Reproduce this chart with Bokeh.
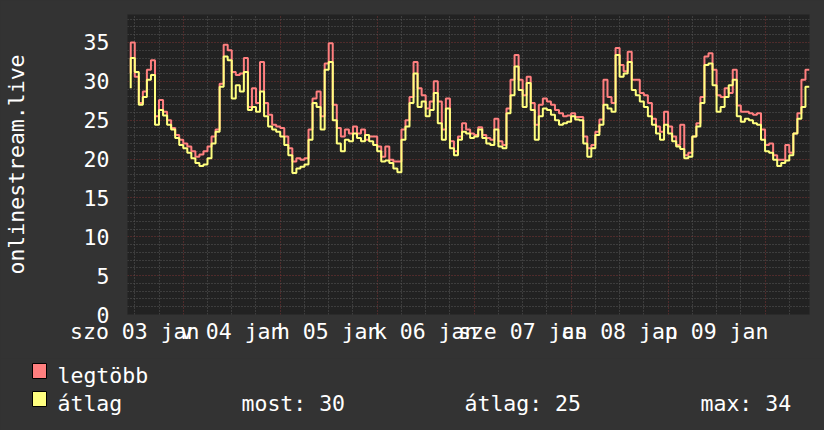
from bokeh.plotting import figure
from bokeh.models import FixedTicker, Range1d
from bokeh.embed import file_html
from bokeh.resources import INLINE
from bokeh.core.properties import value

# ---------------- data (hours since szo 03 jan 00:00) ----------------
hours = list(range(11, 180))

max_vals = [
    31.0, 35.0, 30.6, 27.2, 28.7, 31.5, 32.7, 25.5, 27.6, 26.1, 25.0, 24.0, 23.1,
    22.5, 22.0, 21.6, 21.0, 20.3, 20.6, 21.0, 21.6, 22.9, 23.8, 29.7, 34.7, 34.0,
    31.2, 30.8, 31.0, 33.0, 26.7, 29.1, 27.2, 32.5, 27.2, 25.7, 24.4,
    24.2, 24.0, 22.9, 21.4, 19.7, 20.1, 19.9, 20.1, 23.8, 27.8, 28.7, 25.5, 32.3,
    34.9, 27.0, 24.0, 22.9, 23.8, 23.3, 24.2, 23.3, 23.8, 22.5, 22.9,
    22.9, 21.6, 20.3, 21.6, 19.9, 19.7, 19.7, 23.8, 25.0, 28.0, 32.5, 29.1, 28.2,
    26.5, 27.4, 30.0, 27.4, 23.8, 27.8, 22.3, 21.0, 22.9, 24.6, 23.8,
    23.3, 23.1, 24.1, 23.1, 22.7, 22.5, 25.2, 22.3, 21.8, 26.5, 30.2, 33.4, 30.2,
    28.2, 30.6, 27.2, 24.4, 27.0, 27.8, 27.4, 27.0, 26.3, 25.9, 25.5,
    25.6, 25.9, 25.4, 25.4, 22.9, 21.4, 21.8, 23.5, 25.1, 30.2, 28.0, 27.2, 34.3,
    32.1, 31.3, 33.8, 30.2, 30.2, 28.5, 28.2, 27.2, 25.2, 24.2, 23.5,
    26.1, 24.2, 22.9, 21.8, 24.4, 20.5, 20.8, 22.9, 24.6, 28.0, 33.2, 33.6, 31.5,
    28.2, 28.0, 29.1, 28.5, 31.5, 26.9, 26.1, 26.1, 25.9, 25.7, 25.9,
    23.8, 21.8, 22.0, 20.5, 19.9, 19.9, 21.8, 20.8, 23.3, 25.9, 30.2, 31.5,
]

avg_vals = [
    29.1, 33.0, 31.2, 27.0, 28.0, 30.2, 30.8, 24.4, 26.3, 25.6, 24.4, 23.8, 22.7,
    21.8, 21.4, 20.8, 20.1, 19.5, 19.1, 19.3, 20.1, 22.0, 23.5, 29.3, 33.2, 32.7,
    27.8, 29.5, 28.7, 31.2, 26.3, 26.7, 26.1, 28.7, 25.5, 24.2, 23.8,
    23.5, 22.9, 21.8, 20.5, 18.2, 18.8, 19.0, 19.3, 22.5, 27.2, 26.7, 23.8, 31.5,
    32.5, 25.0, 22.0, 21.0, 22.5, 22.3, 23.3, 22.7, 22.3, 23.1, 22.3,
    21.8, 21.0, 19.7, 19.8, 19.5, 18.8, 18.3, 22.5, 24.2, 27.2, 31.0, 26.7, 27.4,
    25.5, 26.3, 28.5, 24.6, 22.5, 26.5, 21.4, 20.5, 22.5, 23.5, 23.3,
    22.7, 22.9, 23.8, 22.7, 22.0, 21.8, 23.8, 21.6, 21.4, 25.9, 28.2, 31.9, 28.9,
    26.7, 29.8, 26.3, 22.5, 25.5, 26.5, 26.3, 25.7, 25.0, 24.4, 24.6,
    24.8, 25.5, 25.1, 25.0, 22.0, 20.3, 21.4, 23.1, 24.4, 27.0, 26.5, 26.1, 33.4,
    30.6, 31.0, 32.5, 28.9, 28.2, 27.4, 26.7, 25.5, 24.4, 23.3, 22.5,
    24.4, 23.3, 22.3, 21.6, 21.3, 20.1, 20.3, 22.9, 24.2, 27.2, 32.1, 32.3, 29.5,
    26.1, 26.7, 28.0, 29.5, 30.2, 25.5, 24.8, 25.2, 25.0, 24.6, 24.4,
    22.5, 21.0, 20.8, 19.9, 19.1, 19.5, 19.8, 20.5, 23.3, 25.2, 26.7, 29.3,
]

label_hours = [12, 36, 60, 84, 108, 132, 156]
day_labels = ["szo 03 jan", "v 04 jan", "h 05 jan", "k 06 jan",
              "sze 07 jan", "cs 08 jan", "p 09 jan"]
y_ticks = [0, 5, 10, 15, 20, 25, 30, 35]

series_names = ["legtöbb", "átlag"]
stat_texts = ["most: 30", "átlag: 25", "max: 34"]

# ---------------- styling / layout ----------------
X0, X1 = 10.2, 179.0
Y_MAX = 38.6
W, H_MAIN, H_LEG = 824, 358, 72
BL, BR, BT, BB = 122, 15, 14, 44
FONT_NAME = "DejaVu Sans Mono"
FS = "21.5px"
BG = "#333333"
CANVAS = "#222222"
RED = "#ff7f7f"
YEL = "#ffff7f"

p = figure(width=W, height=H_MAIN, x_range=Range1d(X0, X1), y_range=Range1d(0, Y_MAX),
           output_backend="svg", toolbar_location=None,
           min_border_left=BL, min_border_right=BR, min_border_top=BT, min_border_bottom=BB)
p.background_fill_color = CANVAS
p.border_fill_color = BG
p.outline_line_color = None

# grids
midnights = [24 * d for d in range(1, 8)]
six_h = [h for h in range(12, 179, 6) if h % 24 != 0]
p.xgrid.ticker = FixedTicker(ticks=midnights, minor_ticks=six_h)
p.xgrid.grid_line_color = "#7c3434"
p.xgrid.grid_line_dash = "1 2"
p.xgrid.minor_grid_line_color = "#595959"
p.xgrid.minor_grid_line_dash = "1 2"

y_minor = [v for v in range(1, 39) if v % 5 != 0]
p.ygrid.ticker = FixedTicker(ticks=y_ticks, minor_ticks=y_minor)
p.ygrid.grid_line_color = "#7c3434"
p.ygrid.grid_line_dash = "1 2"
p.ygrid.minor_grid_line_color = "#595959"
p.ygrid.minor_grid_line_dash = "1 2"

# axes
p.xaxis.ticker = FixedTicker(ticks=label_hours)
p.xaxis.major_label_overrides = {h: t for h, t in zip(label_hours, day_labels)}
p.yaxis.ticker = FixedTicker(ticks=y_ticks)
for ax in (p.xaxis, p.yaxis):
    ax.axis_line_color = None
    ax.major_tick_line_color = None
    ax.minor_tick_line_color = None
    ax.major_tick_out = 0
    ax.major_tick_in = 0
    ax.major_label_text_color = "white"
    ax.major_label_text_font = FONT_NAME
    ax.major_label_text_font_size = FS
p.xaxis.major_label_standoff = 4
p.yaxis.major_label_standoff = 18
p.yaxis.axis_label = "onlinestream.live"
p.yaxis.axis_label_text_color = "white"
p.yaxis.axis_label_text_font = FONT_NAME
p.yaxis.axis_label_text_font_size = FS
p.yaxis.axis_label_text_font_style = "normal"
p.yaxis.axis_label_standoff = 52

# series
p.step(hours, max_vals, mode="before", line_color=RED, line_width=2)
p.step(hours, avg_vals, mode="before", line_color=YEL, line_width=2)

# ---------------- legend strip (separate root below the chart) ----------------
lg = figure(width=W, height=H_LEG, x_range=Range1d(0, W), y_range=Range1d(H_LEG, 0),
            output_backend="svg", toolbar_location=None, min_border=0,
            x_axis_type=None, y_axis_type=None)
lg.grid.visible = False
lg.background_fill_color = BG
lg.border_fill_color = BG
lg.outline_line_color = None
lg.quad(left=[32, 32], right=[46, 46], top=[5, 33], bottom=[20, 48],
        fill_color=[RED, YEL], line_color="black", line_width=1)
lg.text(x=[57, 57, 241, 464, 700],
        y=[17, 45, 45, 45, 45],
        text=[series_names[0], series_names[1]] + stat_texts,
        text_color="white", text_font=value(FONT_NAME), text_font_size=value(FS),
        text_baseline="alphabetic", text_align="left")

html = file_html([p, lg], INLINE, title="onlinestream.live")
html = html.replace("<head>", "<head>\n<style>body{background:#333333;margin:0;}</style>", 1)
open("out.html", "w").write(html)
